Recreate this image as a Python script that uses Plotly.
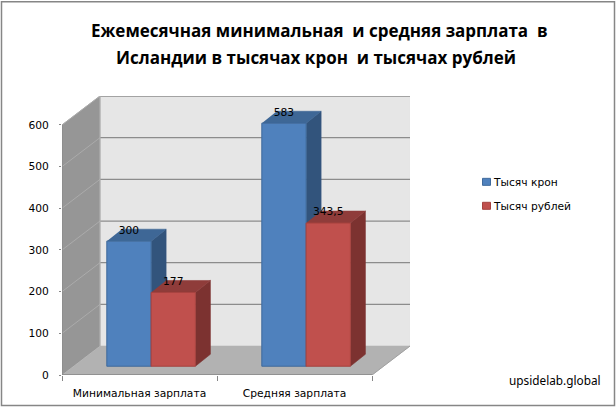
import plotly.graph_objects as go

categories = ["Минимальная зарплата", "Средняя зарплата"]
thousand_kronor = [300, 583]
thousand_rubles = [177, 343.5]
series_names = ["Тысяч крон", "Тысяч рублей"]
y_ticks = [0, 100, 200, 300, 400, 500, 600]
title_lines = ["Ежемесячная минимальная  и средняя зарплата  в", "Исландии в тысячах крон  и тысячах рублей"]

W, H = 616, 408
L, R, T, B = 62.0, 410.0, 96.0, 375.5
PX_PER_CAT = 155.0
PX_PER_VAL = 250.5 / 600
FONT = "DejaVu Sans"

xmin = -0.5
xmax = xmin + (R - L) / PX_PER_CAT
ymax = (B - T) / PX_PER_VAL
wall_dx = 38.0 / PX_PER_CAT
wall_dy = 29.0 / PX_PER_VAL
bar_w = 44.3 / PX_PER_CAT
bar_dx = 15.0 / PX_PER_CAT
bar_dy = 12.0 / PX_PER_VAL
gap_dx = 11.6 / PX_PER_CAT
gap_dy = 8.8 / PX_PER_VAL
label_lift = 5.0 / PX_PER_VAL
xfront_end = xmin + 2

def px(x):
    return (x - L) / (R - L)
def py(y):
    return (B - y) / (B - T)

fig = go.Figure()

def poly(xs, ys, color, line=None):
    fig.add_trace(go.Scatter(x=xs, y=ys, mode="lines", fill="toself", fillcolor=color,
                             line=dict(color=line or color, width=0.6), hoverinfo="skip",
                             showlegend=False, cliponaxis=False))
def seg(xs, ys, color, width=1.0):
    fig.add_trace(go.Scatter(x=xs, y=ys, mode="lines", line=dict(color=color, width=width),
                             hoverinfo="skip", showlegend=False, cliponaxis=False))

top = y_ticks[-1]
poly([xmin + wall_dx, xfront_end + wall_dx, xfront_end + wall_dx, xmin + wall_dx],
     [wall_dy, wall_dy, top + wall_dy, top + wall_dy], "#e6e6e6")
poly([xmin, xmin + wall_dx, xmin + wall_dx, xmin], [0, wall_dy, top + wall_dy, top], "#969696")
poly([xmin, xfront_end, xfront_end + wall_dx, xmin + wall_dx], [0, 0, wall_dy, wall_dy], "#b2b2b2")

for v in y_ticks:
    if v > 0:
        seg([xmin, xmin + wall_dx], [v, v + wall_dy], "#ababab", 1.0)
        seg([xmin + wall_dx, xfront_end + wall_dx], [v + wall_dy, v + wall_dy], "#8c8c8c", 1.3)
seg([xmin + wall_dx, xmin + wall_dx], [wall_dy, top + wall_dy], "#b4b4b4", 1.0)
seg([xfront_end, xfront_end + wall_dx], [0, wall_dy], "#a0a0a0", 1.0)
seg([xmin, xmin], [0, top], "#868686", 1.0)
seg([xmin, xfront_end], [0, 0], "#868686", 1.3)

blue = dict(front="#4f81bd", edge="#3f6a9c", top="#3e6796", side="#32547c")
red = dict(front="#c0504d", edge="#a6423f", top="#8f3c3a", side="#7c3230")
base = gap_dy
for i, _ in enumerate(categories):
    cx = i + gap_dx
    for vals, x0, c in ((thousand_kronor, cx - bar_w, blue), (thousand_rubles, cx, red)):
        h = vals[i] + base
        x1 = x0 + bar_w
        poly([x1, x1 + bar_dx, x1 + bar_dx, x1], [base, base + bar_dy, h + bar_dy, h], c["side"])
        poly([x0, x1, x1 + bar_dx, x0 + bar_dx], [h, h, h + bar_dy, h + bar_dy], c["top"])

for name, vals, off, c in ((series_names[0], thousand_kronor, gap_dx - bar_w, blue),
                           (series_names[1], thousand_rubles, gap_dx, red)):
    fig.add_trace(go.Bar(x=[0, 1], y=vals, base=[base, base], width=bar_w, offset=off,
                         name=name, marker=dict(color=c["front"], line=dict(color=c["edge"], width=1)),
                         xaxis="x2", yaxis="y2", showlegend=False))

for vals, off in ((thousand_kronor, gap_dx - bar_w / 2), (thousand_rubles, gap_dx + bar_w / 2)):
    fig.add_trace(go.Scatter(x=[k + off for k in range(len(vals))], y=[v + base + label_lift for v in vals],
                             mode="text", text=[f"{v:g}".replace(".", ",") for v in vals],
                             textposition="top center", textfont=dict(family=FONT, size=10.7, color="#000"),
                             xaxis="x2", yaxis="y2", showlegend=False, hoverinfo="skip", cliponaxis=False))

shapes = [dict(type="rect", xref="paper", yref="paper", layer="below",
               x0=px(1.5), x1=px(614.5), y0=py(1.5), y1=py(406), line=dict(color="#868686", width=1.5),
               fillcolor="white")]
annotations = []
for line, xc, yc in zip(title_lines, (319, 316), (30, 57)):
    annotations.append(dict(text=f"<b>{line}</b>", xref="paper", yref="paper", x=px(xc), y=py(yc),
                            showarrow=False, xanchor="center", yanchor="middle",
                            font=dict(family="Open Sans", size=17, color="#000")))
for name, yc, c in zip(series_names, (182, 206), (blue, red)):
    shapes.append(dict(type="rect", xref="paper", yref="paper", x0=px(482.5), x1=px(490.5),
                       y0=py(yc - 3.5), y1=py(yc + 3.5), fillcolor=c["front"],
                       line=dict(color=c["edge"], width=1)))
    annotations.append(dict(text=name, xref="paper", yref="paper", x=px(490.5), y=py(yc + 1), showarrow=False,
                            xanchor="left", yanchor="middle",
                            font=dict(family=FONT, size=10.7, color="#000")))
annotations.append(dict(text="upsidelab.global", xref="paper", yref="paper", x=px(603), y=py(381),
                        showarrow=False, xanchor="right", yanchor="middle",
                        font=dict(family="Noto Sans", size=11.8, color="#000")))

axis_common = dict(showgrid=False, zeroline=False, showline=False, automargin=False)
fig.update_layout(
    width=W, height=H, margin=dict(l=L, r=W - R, t=T, b=H - B, pad=0, autoexpand=False),
    paper_bgcolor="white", plot_bgcolor="rgba(0,0,0,0)", barmode="overlay", showlegend=False,
    shapes=shapes, annotations=annotations,
    xaxis=dict(range=[xmin, xmax], tickmode="array", tickvals=[xmin, xmin + 1, xmin + 2], ticktext=["", "", ""],
               ticks="outside", ticklen=5, tickcolor="#868686", tickwidth=1, **axis_common),
    yaxis=dict(range=[0, ymax], tickmode="array", tickvals=y_ticks, ticktext=[str(v) for v in y_ticks],
               ticks="outside", ticklen=2, tickcolor="#868686", tickwidth=1, ticklabelstandoff=8,
               tickfont=dict(family=FONT, size=10.7, color="#000"), **axis_common),
    xaxis2=dict(range=[xmin, xmax], overlaying="x", anchor="y2", side="bottom", tickmode="array", tickvals=[0, 1],
                ticktext=categories, ticks="", ticklabelstandoff=10,
                tickfont=dict(family=FONT, size=10.7, color="#000"), **axis_common),
    yaxis2=dict(range=[0, ymax], overlaying="y", anchor="x2", showticklabels=False, ticks="", **axis_common),
)
fig.write_html("out.html", config=dict(displayModeBar=False),
               post_script="document.body.style.margin='0';document.body.style.overflow='hidden';")
